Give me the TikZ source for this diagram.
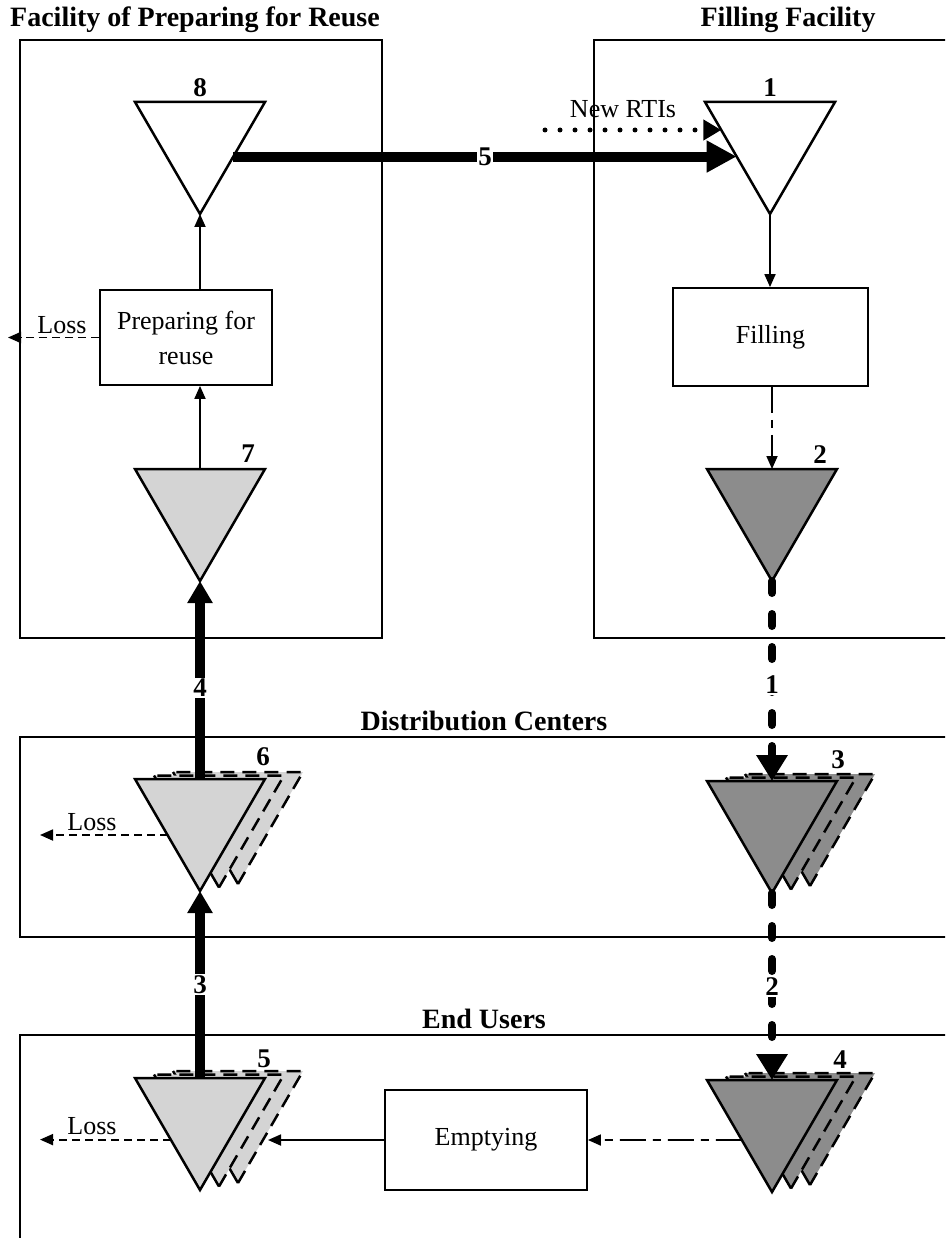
\documentclass[tikz,border=0pt]{standalone}
\usepackage{fontspec}
\setmainfont{Liberation Serif}
\usetikzlibrary{arrows.meta,calc}

\definecolor{reusegray}{gray}{0.83}
\definecolor{fullgray}{gray}{0.55}

\tikzset{
  areaframe/.style={line width=1.3pt},
  areatitle/.style={font=\fontsize{28}{30}\selectfont\bfseries, anchor=base, inner sep=0pt},
  stocknum/.style={font=\fontsize{27}{30}\selectfont\bfseries, anchor=base, inner sep=0pt},
  flownum/.style={font=\fontsize{27}{30}\selectfont\bfseries, fill=white, inner sep=1.5pt},
  flowtext/.style={font=\fontsize{26}{30}\selectfont, anchor=base, inner sep=0pt},
  procbox/.style={draw, line width=1.8pt, align=center, font=\fontsize{26}{35}\selectfont, inner sep=0pt},
  tripath/.style={line width=2.5pt, line join=miter},
  flow/.style={line width=1.8pt, -{Triangle[length=13pt,width=11pt]}},
  lossflow/.style={flow, dash pattern=on 8pt off 5pt},
  dashdotflow/.style={flow, dash pattern=on 26pt off 7pt on 8pt off 7pt},
  mainflow/.style={line width=10pt, -{Triangle[length=22pt,width=24pt]}},
  bigflow/.style={line width=10pt, -{Triangle[length=30pt,width=30pt]}},
  fullflow/.style={line width=8pt, line cap=round, dash pattern=on 12pt off 21pt, -{Triangle[length=26pt,width=30pt]}},
  newflow/.style={line width=5pt, line cap=round, dash pattern=on 0pt off 15pt, -{Triangle[length=18pt,width=20pt]}},
}

% single inventory triangle: name, centre x, top y, fill
\newcommand\rtitri[4]{%
  \coordinate (#1-tl) at (#2-65,#3);
  \coordinate (#1-tr) at (#2+65,#3);
  \coordinate (#1-top) at (#2,#3);
  \coordinate (#1-apex) at (#2,#3+112);
  \filldraw[tripath, fill=#4] (#1-tl) -- (#1-tr) -- (#1-apex) -- cycle;
}
% stacked inventory (several sites): two dashed copies behind the front one
\newcommand\rtistack[4]{%
  \foreach \k in {2,1}{
    \begin{scope}[shift={(19*\k,-3.5*\k)}]
      \fill[#4] (#2-65,#3) -- (#2+65,#3) -- (#2,#3+112) -- cycle;
      \draw[tripath] (#2-65,#3) -- (#2,#3+112);
      \draw[tripath, dash pattern=on 14pt off 8pt] (#2,#3+112) -- (#2+65,#3) -- (#2-65,#3);
    \end{scope}
  }
  \rtitri{#1}{#2}{#3}{#4}
}

\begin{document}
\begin{tikzpicture}[x=1pt,y=-1pt]
\useasboundingbox (0,0) rectangle (945,1238);
\clip (0,0) rectangle (945,1238);

% site frames
\draw[areaframe] (20,40) rectangle (382,638);
\draw[areaframe] (960,40) -- (594,40) -- (594,638) -- (960,638);
\draw[areaframe] (960,737) -- (20,737) -- (20,937) -- (960,937);
\draw[areaframe] (960,1035) -- (20,1035) -- (20,1260);

\node[areatitle] (tPrep) at (195,27) {Facility of Preparing for Reuse};
\node[areatitle] (tFill) at (788,27) {Filling Facility};
\node[areatitle] (tDist) at (484,730) {Distribution Centers};
\node[areatitle] (tEnd) at (484,1028) {End Users};

% inventories
\rtitri{t8}{200}{102}{white}
\rtitri{t1}{770}{102}{white}
\rtitri{t7}{200}{469}{reusegray}
\rtitri{t2}{772}{469}{fullgray}
\rtistack{s6}{200}{779}{reusegray}
\rtistack{s3}{772}{781}{fullgray}
\rtistack{s5}{200}{1078}{reusegray}
\rtistack{s4}{772}{1080}{fullgray}

\node[stocknum] (n8) at (200,97) {8};
\node[stocknum] (n1) at (770,97) {1};
\node[stocknum] (n7) at (248,462) {7};
\node[stocknum] (n2) at (820,463) {2};
\node[stocknum] (n6) at (263,765) {6};
\node[stocknum] (n3) at (838,768) {3};
\node[stocknum] (n5) at (264,1067) {5};
\node[stocknum] (n4) at (840,1068) {4};

% processes
\node[procbox, minimum width=172pt, minimum height=95pt] (prep) at (186,337.5) {Preparing for\\reuse};
\node[procbox, minimum width=195pt, minimum height=98pt] (filling) at (770.5,337) {Filling};
\node[procbox, minimum width=202pt, minimum height=100pt] (empty) at (486,1140) {Emptying};

% helper points
\coordinate (t8-out) at ($(t8-tr)!0.487!(t8-apex)$);
\coordinate (t1-in) at ($(t1-tl)!0.487!(t1-apex)$);
\coordinate (t1-new) at ($(t1-tl)!0.25!(t1-apex)$);
\coordinate (newsrc) at (545,130);
\coordinate (lossA) at (8,337.5);
\coordinate (s6-loss) at ($(s6-tl)!0.5!(s6-apex)$);
\coordinate (lossB) at (40,835);
\coordinate (s5-loss) at ($(s5-tl)!0.55!(s5-apex)$);
\coordinate (lossC) at (40,1140);
\coordinate (s4-out) at ($(s4-tl)!0.536!(s4-apex)$);
\coordinate (s5-in) at (268,1140);

% preparing for reuse facility
\draw[flow] (t7-top) -- (t7-top |- prep.south);
\draw[flow] (prep.north -| t8-apex) -- (t8-apex);
\draw[lossflow] (prep.west) -- (lossA);
\node[flowtext] (lossAtxt) at (62,333) {Loss};

% filling facility
\draw[newflow] (newsrc) -- (t1-new);
\node[flowtext] (newtxt) at (623,118) {New RTIs};
\draw[flow] (t1-apex) -- (t1-apex |- filling.north);
\draw[dashdotflow] (filling.south -| t2-top) -- (t2-top);

% main flows of RTIs
\draw[bigflow] (t8-out) -- (t1-in) node[flownum, pos=0.5] (f5) {5};
\draw[fullflow] (t2-apex) -- (s3-top) node[flownum, pos=0.52] (f1) {1};
\draw[fullflow] (s3-apex) -- (s4-top) node[flownum, pos=0.5] (f2) {2};
\draw[mainflow] (s5-top) -- (s6-apex) node[flownum, pos=0.5] (f3) {3};
\draw[mainflow] (s6-top) -- (t7-apex) node[flownum, pos=0.46] (f4) {4};

% distribution centres and end users
\draw[lossflow] (s6-loss) -- (s6-loss -| lossB);
\node[flowtext] (lossBtxt) at (92,830) {Loss};
\draw[dashdotflow] (s4-out) -- (empty.east);
\draw[flow] (empty.west) -- (s5-in);
\draw[lossflow] (s5-loss) -- (s5-loss -| lossC);
\node[flowtext] (lossCtxt) at (92,1134) {Loss};
\end{tikzpicture}
\end{document}
